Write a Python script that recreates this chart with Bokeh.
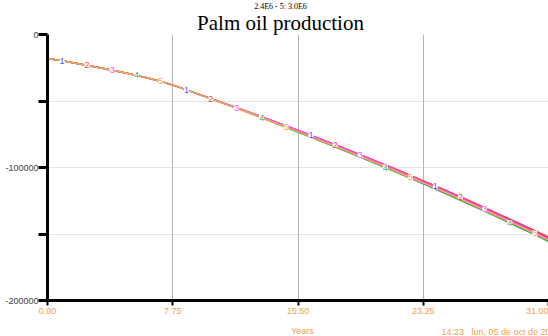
import numpy as np
from bokeh.plotting import figure
from bokeh.models import Range1d, FixedTicker, Label, NumeralTickFormatter, ColumnDataSource
from bokeh.embed import file_html
from bokeh.resources import INLINE

# ---------------- data ----------------
years = list(range(32))
run1 = [-18100, -19900, -22200, -24500, -26900, -29400, -32100, -35200, -39000, -43300,
        -47800, -52080, -56360, -60740, -65220, -69700, -74360, -79120, -83880, -88740,
        -93700, -98680, -103760, -108940, -114120, -119400, -124780, -130270, -135850,
        -141430, -147120, -152900]
run2 = [-18100, -19900, -22200, -24500, -26900, -29400, -32100, -35200, -39000, -43300,
        -47800, -52100, -56400, -60800, -65300, -69800, -74420, -79140, -83860, -88680,
        -93600, -98540, -103580, -108720, -113860, -119100, -124430, -129870, -135400,
        -140930, -146570, -152300]
run3 = [-18100, -19900, -22200, -24500, -26900, -29400, -32100, -35200, -39000, -43300,
        -47800, -52080, -56360, -60740, -65220, -69700, -74420, -79240, -84060, -88980,
        -94000, -99020, -104140, -109360, -114580, -119900, -125320, -130830, -136450,
        -142070, -147780, -153600]
run4 = [-18100, -19900, -22200, -24500, -26900, -29400, -32100, -35200, -39000, -43300,
        -47800, -52340, -56880, -61520, -66260, -71000, -75760, -80620, -85480, -90440,
        -95500, -100560, -105720, -110980, -116240, -121600, -127070, -132630, -138300,
        -143970, -149730, -155600]
run5 = [-18100, -19900, -22200, -24500, -26900, -29400, -32100, -35200, -39000, -43300,
        -47800, -52260, -56720, -61280, -65940, -70600, -75320, -80140, -84960, -89880,
        -94900, -99920, -105040, -110260, -115480, -120800, -126220, -131730, -137350,
        -142970, -148680, -154500]
run_names = ["1", "2", "3", "4", "5"]
run_colors = ["#5050ff", "#f23c3c", "#ff48ff", "#3f9f5c", "#ffa352"]

x_ticks = [0, 7.75, 15.5, 23.25, 31]
y_ticks = [0, -50000, -100000, -150000, -200000]
y_tick_labels = {0: "0", -50000: "", -100000: "-100000", -150000: "", -200000: "-200000"}
label_years = [0.9, 2.45, 4.0, 5.5, 7.0, 8.6, 10.1, 11.7, 13.25, 14.75,
               16.3, 17.8, 19.35, 20.9, 22.45, 24.0, 25.55, 27.05, 28.6, 30.15]
scale_text = "2.4E6 - 5: 3.0E6"
title_text = "Palm oil production"
x_title = "Years"
stamp_text = "14:23\u00a0\u00a0\u00a0lun, 05 de oct de 2020"

# ---------------- layout ----------------
W, H = 548, 336
LEFT, TOP, BOTTOM = 47, 34, 36
ORANGE = "#f5a04c"

p = figure(width=W, height=H, output_backend="svg", toolbar_location=None,
           x_range=Range1d(0, 31), y_range=Range1d(-200000, 0),
           min_border_left=LEFT, min_border_right=0, min_border_top=TOP,
           min_border_bottom=BOTTOM)
p.outline_line_color = None
p.background_fill_color = "white"
p.border_fill_color = "white"

# axes
p.xaxis.ticker = FixedTicker(ticks=x_ticks)
p.xaxis.formatter = NumeralTickFormatter(format="0.00")
p.xaxis.axis_line_width = 3
p.xaxis.axis_line_color = "black"
p.xaxis.major_tick_line_width = 2
p.xaxis.major_tick_line_color = "black"
p.xaxis.major_tick_out = 5
p.xaxis.major_tick_in = 0
p.xaxis.minor_tick_line_color = None
p.xaxis.major_label_text_color = ORANGE
p.xaxis.major_label_text_font = "Liberation Sans"
p.xaxis.major_label_text_font_size = "9px"
p.xaxis.major_label_standoff = 2

p.yaxis.ticker = FixedTicker(ticks=y_ticks)
p.yaxis.major_label_overrides = y_tick_labels
p.yaxis.axis_line_width = 3
p.yaxis.axis_line_color = "black"
p.yaxis.major_tick_line_width = 3
p.yaxis.major_tick_line_color = "black"
p.yaxis.major_tick_out = 9
p.yaxis.major_tick_in = 0
p.yaxis.minor_tick_line_color = None
p.yaxis.major_label_text_color = "#444444"
p.yaxis.major_label_text_font = "Liberation Sans"
p.yaxis.major_label_text_font_size = "9px"
p.yaxis.major_label_standoff = 0

# grids
p.xgrid.ticker = FixedTicker(ticks=x_ticks)
p.xgrid.grid_line_color = "#b4b4b4"
p.xgrid.grid_line_width = 1
p.ygrid.ticker = FixedTicker(ticks=y_ticks)
p.ygrid.grid_line_color = "#c8c8c8"
p.ygrid.grid_line_dash = "1 1"
p.ygrid.grid_line_width = 1

# lines
runs = [run1, run2, run3, run4, run5]
for vals, col in zip(runs, run_colors):
    p.line(years, vals, line_color=col, line_width=1.5)

# run number markers along the curves
lab_x, lab_y, lab_t, lab_c = [], [], [], []
for k, t in enumerate(label_years):
    i = k % 5
    lab_x.append(t)
    lab_y.append(float(np.interp(t, years, runs[i])))
    lab_t.append(run_names[i])
    lab_c.append(run_colors[i])
src = ColumnDataSource(dict(x=lab_x, y=lab_y, t=lab_t, c=lab_c))
p.text(x="x", y="y", text="t", text_color="c", source=src,
       text_align="center", text_baseline="middle",
       text_font={"value": "Liberation Sans"}, text_font_size={"value": "9px"},
       background_fill_color="white", padding=0)

# texts outside the frame: labels in side panels (screen units relative to panel)
p.add_layout(Label(x=280 - LEFT, y=12, x_units="screen", y_units="screen", text=title_text,
                   text_align="center", text_baseline="alphabetic",
                   text_font="Liberation Serif", text_font_size="21px",
                   text_color="black"), "above")
p.add_layout(Label(x=280 - LEFT, y=4, x_units="screen", y_units="screen", text=scale_text,
                   text_align="center", text_baseline="alphabetic",
                   text_font="Liberation Serif", text_font_size="8px",
                   text_color="black"), "above")
p.add_layout(Label(x=302 - LEFT, y=-4, x_units="screen", y_units="screen", text=x_title,
                   text_align="center", text_baseline="middle",
                   text_font="Liberation Sans", text_font_size="9px",
                   text_color=ORANGE), "below")
p.add_layout(Label(x=441 - LEFT, y=5, x_units="screen", y_units="screen", text=stamp_text,
                   text_align="left", text_baseline="middle",
                   text_font="Liberation Sans", text_font_size="9px",
                   text_color=ORANGE), "below")

open("out.html", "w").write(file_html(p, INLINE))
